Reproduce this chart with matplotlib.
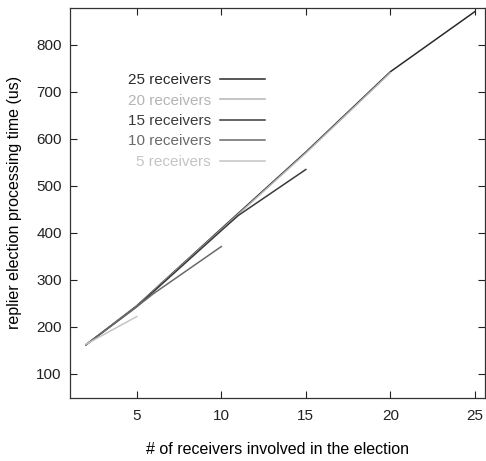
import matplotlib
matplotlib.use("Agg")
import matplotlib.pyplot as plt

plt.rcParams['font.family'] = ['Liberation Sans', 'DejaVu Sans']

# series
x25 = [2, 5, 10, 15, 20, 25]
y25 = [162, 245, 409, 572, 743, 871]
x20 = [2, 5, 10, 15, 20]
y20 = [162, 244, 407, 570, 741]
x15 = [2, 5, 10, 11, 15]
y15 = [162, 243, 405, 437, 535]
x10 = [2, 5, 6, 10]
y10 = [162, 243, 271, 371]
x5 = [2, 5]
y5 = [163, 222]

labels = ['25 receivers', '20 receivers', '15 receivers', '10 receivers', '5 receivers']
colors = ['#2a2a2a', '#b4b4b4', '#3a3a3a', '#6a6a6a', '#c4c4c4']
xticks = [5, 10, 15, 20, 25]
yticks = [100, 200, 300, 400, 500, 600, 700, 800]

fig = plt.figure(figsize=(4.86, 4.61), dpi=100)
ax = fig.add_axes([0.144, 0.137, 0.854, 0.846])

series = [(x25, y25), (x20, y20), (x15, y15), (x10, y10), (x5, y5)]
for (xs, ys), lab, c in zip(series, labels, colors):
    ax.plot(xs, ys, color=c, linewidth=1.1, label=lab)

ax.set_xlim(1.05, 25.6)
ax.set_ylim(49, 879)
ax.set_xticks(xticks)
ax.set_yticks(yticks)
ax.tick_params(direction='in', length=5, width=0.8, top=True, right=True,
               labelsize=11, colors='#222222')
ax.tick_params(axis='x', pad=8)
ax.tick_params(axis='y', pad=6)
for sp in ax.spines.values():
    sp.set_color('#333333')
    sp.set_linewidth(0.9)

ax.set_xlabel('# of receivers involved in the election', fontsize=11.5, labelpad=14)
ax.set_ylabel('replier election processing time (us)', fontsize=11.5, labelpad=10)

leg = ax.legend(loc='upper left', bbox_to_anchor=(0.125, 0.848), frameon=False,
                markerfirst=False, labelcolor='linecolor', fontsize=11,
                handlelength=2.9, handletextpad=0.6, labelspacing=0.42,
                borderaxespad=0)

fig.savefig('out.png', dpi=100)
